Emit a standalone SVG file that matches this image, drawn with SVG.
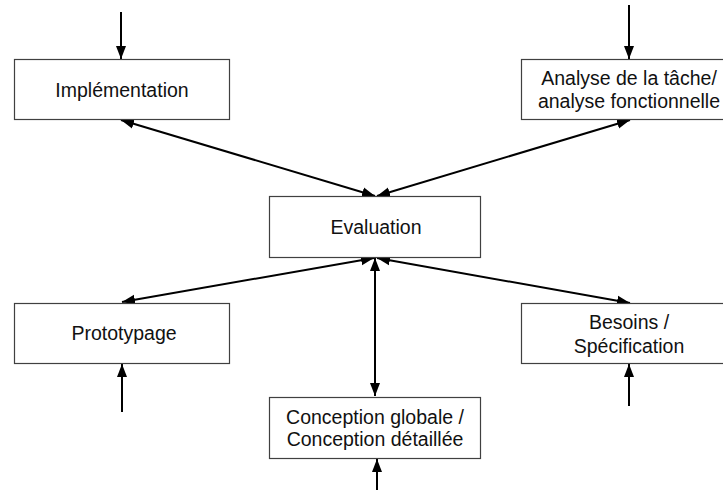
<svg xmlns="http://www.w3.org/2000/svg" width="723" height="490" viewBox="0 0 723 490">
<style>
.box{fill:#fff;stroke:#404040;stroke-width:1.2}
.t{font-family:"Liberation Sans",Arial,sans-serif;font-size:19.5px;fill:#111;text-anchor:middle}
.c{stroke:#000;stroke-width:2;fill:none;marker-end:url(#ah)}
.d{marker-start:url(#ahs)}
</style>
<defs>
<marker id="ah" markerUnits="userSpaceOnUse" markerWidth="14" markerHeight="12" viewBox="0 0 14 12" refX="13" refY="6" orient="auto">
<path d="M0,1 L13,6 L0,11 Z" fill="#000"/>
</marker>
<marker id="ahs" markerUnits="userSpaceOnUse" markerWidth="14" markerHeight="12" viewBox="0 0 14 12" refX="1" refY="6" orient="auto">
<path d="M14,1 L1,6 L14,11 Z" fill="#000"/>
</marker>
</defs>
<rect width="723" height="490" fill="#fff"/>
<g id="connectors">
<line class="c" x1="121" y1="12" x2="121" y2="59"/>
<line class="c" x1="629" y1="5" x2="629" y2="59"/>
<line class="c" x1="122" y1="412" x2="122" y2="364"/>
<line class="c" x1="629" y1="406" x2="629" y2="364"/>
<line class="c" x1="377" y1="490" x2="377" y2="459"/>
<line class="c d" x1="375" y1="196" x2="121" y2="120"/>
<line class="c d" x1="377" y1="196" x2="630" y2="120"/>
<line class="c d" x1="374" y1="258" x2="122" y2="302"/>
<line class="c d" x1="377" y1="258" x2="630" y2="303"/>
<line class="c d" x1="375" y1="258" x2="375" y2="396"/>
</g>
<g id="implementation">
<rect class="box" x="14.5" y="59.5" width="215" height="60"/>
<text class="t" x="122" y="97">Implémentation</text>
</g>
<g id="analyse">
<rect class="box" x="521.5" y="59.5" width="216" height="60"/>
<text class="t" x="629" y="85">Analyse de la tâche/</text>
<text class="t" x="629" y="108">analyse fonctionnelle</text>
</g>
<g id="evaluation">
<rect class="box" x="269.5" y="196.5" width="211" height="61"/>
<text class="t" x="376" y="234">Evaluation</text>
</g>
<g id="prototypage">
<rect class="box" x="14.5" y="303.5" width="215" height="60"/>
<text class="t" x="124" y="340">Prototypage</text>
</g>
<g id="besoins">
<rect class="box" x="521.5" y="303.5" width="216" height="60"/>
<text class="t" x="629" y="329">Besoins /</text>
<text class="t" x="629" y="353">Spécification</text>
</g>
<g id="conception">
<rect class="box" x="269.5" y="397.5" width="211" height="61"/>
<text class="t" x="375" y="424">Conception globale /</text>
<text class="t" x="375" y="446">Conception détaillée</text>
</g>
</svg>
